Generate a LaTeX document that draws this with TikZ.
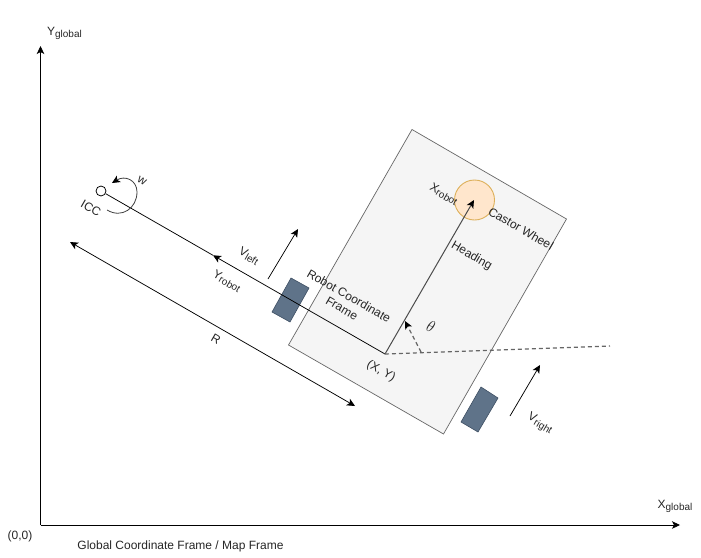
\documentclass[tikz,border=0pt]{standalone}
\usepackage{fontspec}
\setmainfont{Liberation Sans}
\usetikzlibrary{arrows.meta,shapes.geometric}
\definecolor{wheelfill}{HTML}{5F7389}
\definecolor{wheeldraw}{HTML}{3E4F63}
\definecolor{castfill}{HTML}{FFE6CC}
\definecolor{castdraw}{HTML}{DDB05A}
\newcommand{\lowtext}[1]{\raisebox{-0.3ex}{\fontsize{10}{10}\selectfont #1}}
\tikzset{
  tip/.style={-{Stealth[length=8pt,width=7.5pt,inset=2pt,color=black,fill=black]}},
  conn/.style={draw=black,line width=0.75pt},
  lab/.style={font=\fontsize{12}{14}\selectfont,text=black!85,inner sep=0pt,align=center},
  rlab/.style={lab,rotate=-30},
  wheelbox/.style={draw=wheeldraw,fill=wheelfill,line width=0.6pt},
  dashline/.style={draw=black!60,line width=1.2pt,dash pattern=on 4pt off 3pt}
}
\begin{document}
\begin{tikzpicture}[x=1pt,y=-1pt]
\useasboundingbox (0,0) rectangle (701,557);
% named anchors
\coordinate (org) at (40.5,525);
\coordinate (yend) at (40.5,46);
\coordinate (xend) at (680,525);
\coordinate (xy) at (385,354);
\coordinate (head) at (474,200);
\coordinate (ymid) at (213,255.3);
\coordinate (rA) at (355,406);
\coordinate (rB) at (70,242);
\coordinate (vlA) at (268,279);
\coordinate (vlB) at (298,229);
\coordinate (vrA) at (510,416);
\coordinate (vrB) at (540,365);
\coordinate (dashend) at (610,346);
\coordinate (thA) at (421,352);
\coordinate (thB) at (405,321);
\coordinate (wA) at (107,210);
\coordinate (wB) at (112,183);
% robot body
\draw[draw=black!60,fill=black!4,line width=0.7pt] (412,129.5) -- (566.5,219) -- (443.5,434) -- (288.5,345) -- cycle;
% wheels
\draw[wheelbox] (291,278) -- (309,288) -- (290,322) -- (272,312) -- cycle;
\draw[wheelbox] (481,387) -- (498,398) -- (478,432) -- (461,422) -- cycle;
% castor
\node[circle,draw=castdraw,fill=castfill,line width=0.9pt,minimum size=40pt,inner sep=0pt] (castor) at (474.5,200) {};
% axes
\draw[conn,tip] (org) -- (yend);
\draw[conn,tip] (org) -- (xend);
% ICC
\node[circle,draw=black,fill=white,line width=0.75pt,minimum size=10pt,inner sep=0pt] (icc) at (101,191) {};
\draw[conn,tip] (xy) -- (ymid);
\draw[conn] (ymid) -- (icc);
% R
\draw[conn,{Stealth[length=8pt,width=7.5pt,inset=2pt]}-{Stealth[length=8pt,width=7.5pt,inset=2pt]}] (rA) -- (rB);
% velocities
\draw[conn,tip] (vlA) -- (vlB);
\draw[conn,tip] (vrA) -- (vrB);
% heading
\draw[draw=black!70,line width=1pt,tip] (xy) -- (head);
% dashed
\draw[dashline] (xy) -- (dashend);
\draw[dashline,tip] (thA) -- (thB);
% w curve
\draw[draw=black!75,line width=0.8pt,tip] (wA) .. controls (122,219) and (137,208) .. (137,192) .. controls (137,180) and (125,175) .. (wB);
% labels
\node[lab] (ly) at (64.5,33) {Y\lowtext{global}};
\node[lab] (lx) at (675,506) {X\lowtext{global}};
\node[lab] (l0) at (20,536) {(0,0)};
\node[lab] (lg) at (180.5,546) {Global Coordinate Frame / Map Frame};
\node[rlab] (lw) at (142,181) {w};
\node[rlab] (licc) at (91,208) {ICC};
\node[rlab] (lyr) at (227,281) {Y\lowtext{robot}};
\node[rlab] (lr) at (216,339) {R};
\node[rlab] (lvl) at (249,256) {V\lowtext{left}};
\node[rlab] (lvr) at (540,424) {V\lowtext{right}};
\node[rlab] (lxr) at (444,194) {X\lowtext{robot}};
\node[rlab] (lcw) at (521,228.5) {Castor Wheel};
\node[rlab] (lh) at (471.5,256) {Heading};
\node[rlab] (lxy) at (381,371) {(X, Y)};
\node[rlab] (lrc) at (345.5,302) {Robot Coordinate\\Frame};
\node[lab,rotate=-20,scale=1.35] (lth) at (431,327) {$\theta$};
\end{tikzpicture}
\end{document}
